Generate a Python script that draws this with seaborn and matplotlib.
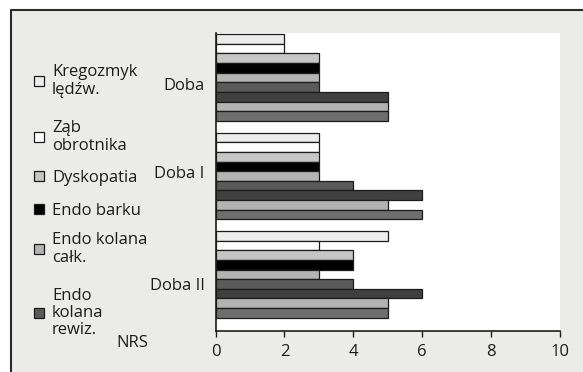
import matplotlib
matplotlib.use("Agg")
import matplotlib.pyplot as plt
from matplotlib.patches import Rectangle
from matplotlib.lines import Line2D
import pandas as pd
import seaborn as sns

# Days after surgery (categories on the y axis)
days = ["Doba", "Doba I", "Doba II"]
day_labels = ["Doba", "Doba I", "Doba II"]

# Series names (first six appear in the legend)
series = ["Kregozmyk\nlędźw.", "Ząb\nobrotnika", "Dyskopatia", "Endo barku",
          "Endo kolana\ncałk.", "Endo\nkolana\nrewiz.", "Grupa 7", "Grupa 8", "Grupa 9"]

# NRS pain scores per series, one value per day
kregozmyk = [2, 3, 5]
zab_obrotnika = [2, 3, 3]
dyskopatia = [3, 3, 4]
endo_barku = [3, 3, 4]
endo_kolana_calk = [3, 3, 3]
endo_kolana_rewiz = [3, 4, 4]
grupa_7 = [5, 6, 6]
grupa_8 = [5, 5, 5]
grupa_9 = [5, 6, 5]

x_ticks = [0, 2, 4, 6, 8, 10]

values = [kregozmyk, zab_obrotnika, dyskopatia, endo_barku, endo_kolana_calk,
          endo_kolana_rewiz, grupa_7, grupa_8, grupa_9]
colors = ["#ececec", "#ffffff", "#c6c6c6", "#000000", "#b3b3b3",
          "#5a5a5a", "#404040", "#b3b3b3", "#6e6e6e"]

rows = []
for name, vals in zip(series, values):
    for d, v in zip(days, vals):
        rows.append({"day": d, "nrs": v, "series": name})
df = pd.DataFrame(rows)

sns.set_style("white")
plt.rcParams["font.family"] = ["Open Sans", "DejaVu Sans"]

ink = "#1c1c1c"
bg = "#ebecea"
fs = 12

fig = plt.figure(figsize=(5.83, 3.72), dpi=100)
fig.patch.set_facecolor("white")

# Light grey panel with a dark frame on its top and left edges
x0 = 10.5 / 583
y1 = 1 - 9.5 / 372
fig.patches.append(Rectangle((x0, -0.1), 1.2, y1 + 0.1, transform=fig.transFigure,
                             facecolor=bg, edgecolor="none", zorder=-10))
fig.lines.append(Line2D([x0, x0, 1.1], [-0.1, y1, y1], transform=fig.transFigure,
                        color="#2a2a2a", linewidth=1.5, zorder=-9))

ax = fig.add_axes([215.5 / 583, 1 - 330.7 / 372, (560 - 215.5) / 583, (330.7 - 33) / 372])
ax.set_facecolor("white")

sns.barplot(data=df, y="day", x="nrs", hue="series", orient="h",
            order=days, hue_order=series, palette=colors, saturation=1,
            width=0.878, gap=0, edgecolor=ink, linewidth=0.9,
            legend=False, ax=ax, errorbar=None)

ax.set_xlim(0, 10)
ax.set_ylim(2.572, -0.452)
ax.set_xticks(x_ticks)
ax.set_xticklabels([str(t) for t in x_ticks])
ax.set_yticks([0.07, 0.96, 2.1])
ax.set_yticklabels(day_labels)
ax.set_xlabel("")
ax.set_ylabel("")

for side in ["top", "right"]:
    ax.spines[side].set_visible(False)
for side in ["left", "bottom"]:
    ax.spines[side].set_color(ink)
    ax.spines[side].set_linewidth(1.2)

ax.tick_params(axis="x", length=4.5, width=1, color=ink, pad=5,
               labelsize=fs, labelcolor=ink, direction="out", bottom=True)
ax.tick_params(axis="y", length=0, pad=8, labelsize=fs, labelcolor=ink)

# Legend entries, one per row in the left margin
legend_y = [81, 137, 178, 211, 249, 313]
for name, col, ypx in zip(series[:6], colors[:6], legend_y):
    h = Line2D([], [], linestyle="none", marker="s", markersize=7,
               markerfacecolor=col, markeredgecolor=ink, markeredgewidth=0.9)
    leg = fig.legend(handles=[h], labels=[name], loc="center left",
                     bbox_to_anchor=(33.6 / 583, 1 - ypx / 372),
                     frameon=False, fontsize=fs, handlelength=0.65,
                     handletextpad=0.45, borderpad=0, borderaxespad=0)
    for t in leg.get_texts():
        t.set_color(ink)
        t.set_linespacing(1.12)

fig.text(132 / 583, 1 - 343 / 372, "NRS", ha="center", va="center",
         fontsize=fs, color=ink)

fig.savefig("out.png", dpi=100, facecolor=fig.get_facecolor())
